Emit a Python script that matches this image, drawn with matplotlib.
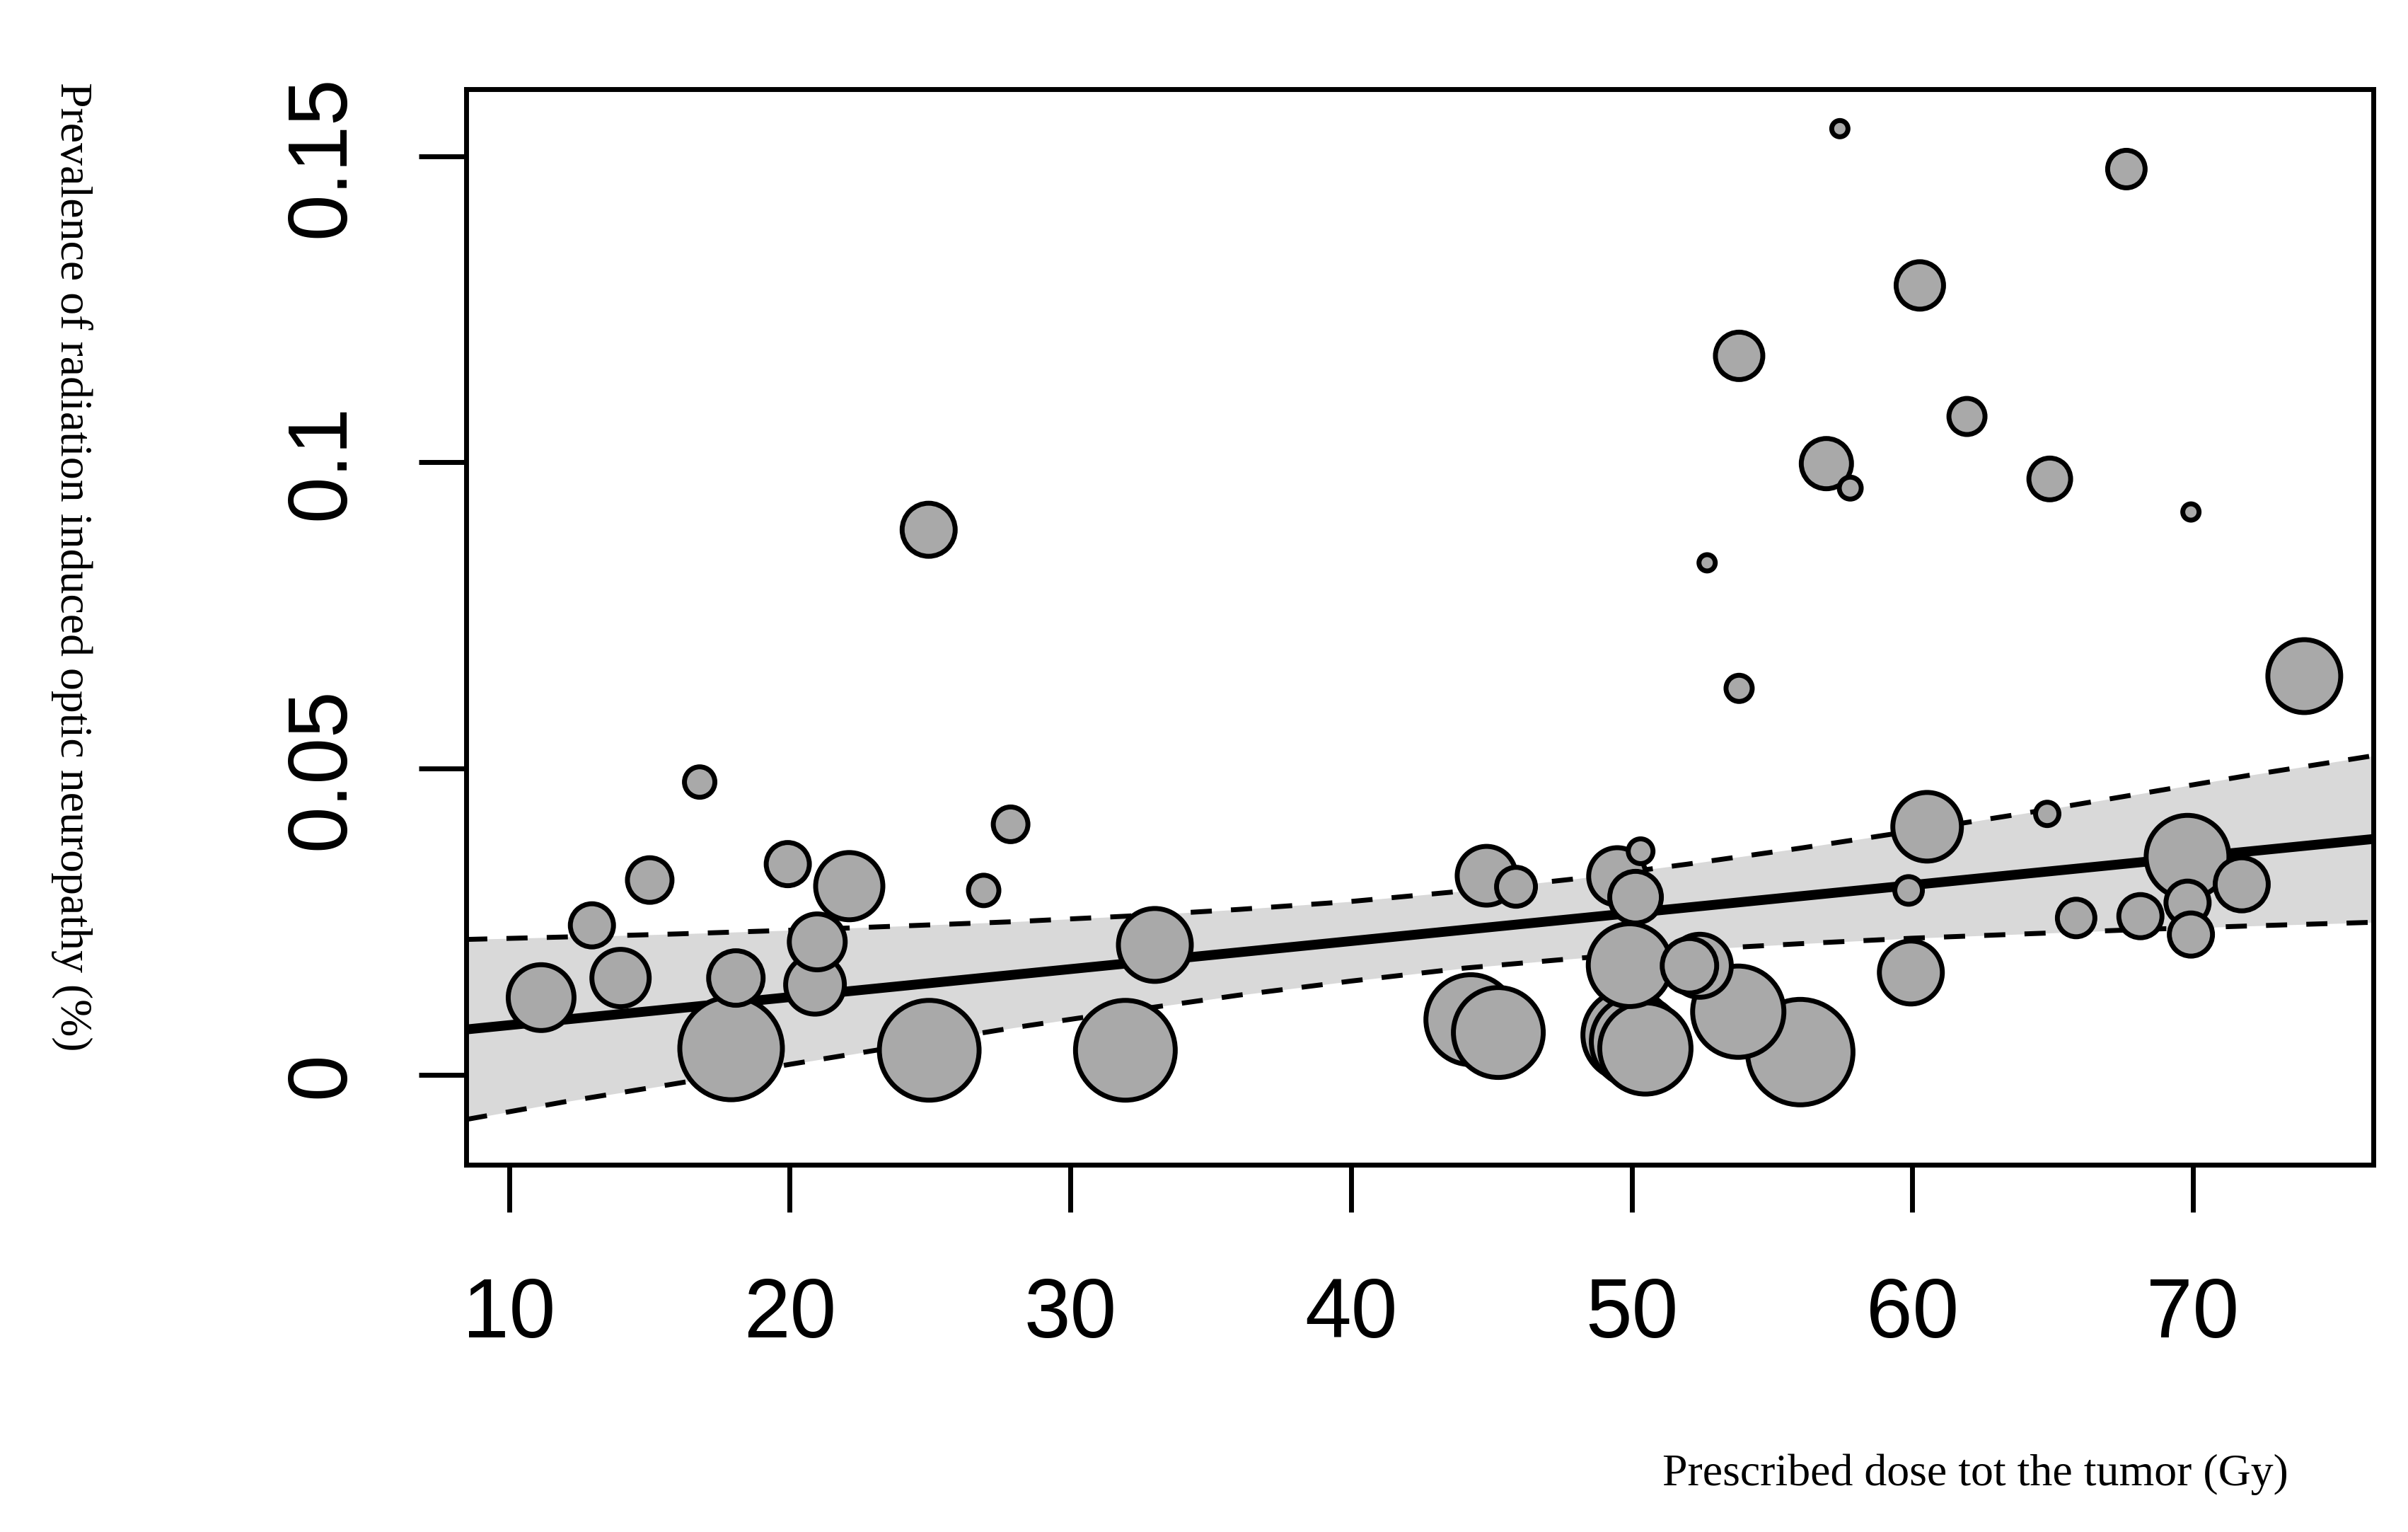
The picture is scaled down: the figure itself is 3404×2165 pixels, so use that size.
import numpy as np
import matplotlib
matplotlib.use("Agg")
import matplotlib.pyplot as plt

# ---------------- data ----------------
dose = [11.14, 12.95, 13.97, 15.01, 16.79, 17.91, 18.08, 19.93, 20.90, 20.98,
        22.12, 24.95, 24.97, 26.91, 27.87, 31.96, 33.01, 44.27, 44.83, 45.25,
        45.88, 49.49, 50.32, 50.14, 49.93, 49.89, 50.19, 50.49, 52.06, 52.43,
        53.80, 56.01, 52.69, 53.83, 53.83, 56.94, 57.79, 57.42, 60.27, 61.95,
        64.90, 67.63, 69.93, 73.97, 60.53, 64.81, 59.87, 59.95, 65.84, 68.13,
        69.81, 69.81, 69.93, 71.74]
prevalence = [0.0126, 0.0244, 0.0158, 0.0318, 0.0478, 0.0043, 0.0158, 0.0344, 0.0147, 0.0217,
              0.0308, 0.0890, 0.0040, 0.0301, 0.0409, 0.0040, 0.0212, 0.0090, 0.0325, 0.0069,
              0.0307, 0.0324, 0.0365, 0.0290, 0.0179, 0.0065, 0.0054, 0.0043, 0.0178, 0.0178,
              0.0103, 0.0037, 0.0836, 0.1174, 0.0631, 0.0998, 0.0958, 0.1545, 0.1289, 0.1075,
              0.0973, 0.1479, 0.0919, 0.0651, 0.0405, 0.0426, 0.0301, 0.0167, 0.0256, 0.0259,
              0.0356, 0.0281, 0.0229, 0.0311]
# relative study weight (bubble radius)
weight = [50, 34, 44, 35, 25, 76, 42, 34, 45, 43,
          51, 41, 74, 25, 28, 74, 55, 67, 45, 67,
          31, 44, 21, 40, 62, 68, 68, 68, 42, 48,
          68, 78, 15, 37, 22, 39, 19, 15, 37, 29,
          33, 30, 15, 55, 52, 20, 23, 48, 30, 34,
          62, 34, 34, 41]

# meta-regression fit and 95% CI band
fit_dose = [8.47, 76.43]
fit_prev = [0.0074, 0.0385]
band_dose = [8.47, 12, 16, 20, 24, 28, 32, 36, 40, 44, 48, 52, 56, 60, 64, 68, 72, 76.43]
band_upper = [0.0221, 0.0225, 0.0230, 0.0236, 0.0243, 0.0250, 0.0259, 0.0270, 0.0283, 0.0300,
              0.0320, 0.0344, 0.0370, 0.0398, 0.0427, 0.0458, 0.0489, 0.0521]
band_lower = [-0.0073, -0.0044, -0.0014, 0.0017, 0.0047, 0.0077, 0.0104, 0.0130, 0.0153, 0.0174,
              0.0190, 0.0204, 0.0214, 0.0223, 0.0230, 0.0237, 0.0243, 0.0249]

xticks = [10, 20, 30, 40, 50, 60, 70]
yticks = [0, 0.05, 0.1, 0.15]
ytick_labels = ["0", "0.05", "0.1", "0.15"]
xlabel = "Prescribed dose tot the tumor (Gy)"
ylabel = "Prevalence of radiation induced optic neuropathy (%)"

# ---------------- figure ----------------
DPI = 100
fig = plt.figure(figsize=(34.04, 21.65), dpi=DPI)
ax = fig.add_axes([0.1936, 0.2397, 0.7920, 0.7021])
ax.set_xlim(8.47, 76.43)
ax.set_ylim(-0.0147, 0.16095)

ax.fill_between(band_dose, band_lower, band_upper, color="#d9d9d9", lw=0, zorder=1)
dash = (0, (4.3, 3.9))
ax.plot(band_dose, band_upper, color="black", lw=5, linestyle=dash, zorder=2)
ax.plot(band_dose, band_lower, color="black", lw=5, linestyle=dash, zorder=2)
ax.plot(fit_dose, fit_prev, color="black", lw=10, solid_capstyle="butt", zorder=3)

x = np.array(dose)
y = np.array(prevalence)
w = np.array(weight, dtype=float)
px2pt = 72.0 / DPI
sizes = (2 * (w - 3.5) * px2pt) ** 2
order = np.argsort(-w, kind="stable")
ax.scatter(x[order], y[order], s=sizes[order], c="#a9a9a9", edgecolors="black",
           linewidths=5, zorder=4)

for sp in ax.spines.values():
    sp.set_linewidth(5)

tick_font = dict(family=["Liberation Sans", "DejaVu Sans"], size=85)
ax.set_xticks(xticks)
ax.set_xticklabels([str(t) for t in xticks], fontdict=tick_font)
ax.set_yticks(yticks)
ax.set_yticklabels(ytick_labels, fontdict=tick_font, rotation=90, va="center")
ax.tick_params(axis="x", length=48, width=5, pad=66)
ax.tick_params(axis="y", length=48, width=5, pad=58)

label_font = dict(family=["Liberation Serif", "DejaVu Serif"], size=46)
fig.text(3235 / 3404, 1 - 2099 / 2165, xlabel, ha="right", va="baseline", **label_font)
fig.text(101 / 3404, 1 - 116 / 2165, ylabel, rotation=270, ha="center", va="top", **label_font)

fig.savefig("out.png", dpi=DPI)
